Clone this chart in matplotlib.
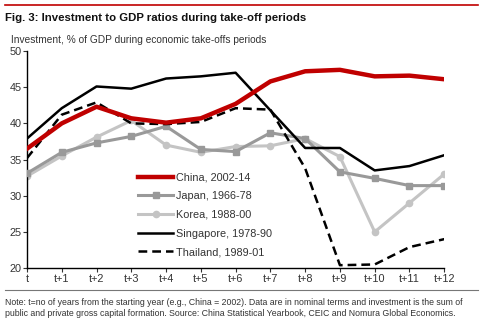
import matplotlib.pyplot as plt
from matplotlib.lines import Line2D

plt.rcParams["font.family"] = ["Liberation Sans", "DejaVu Sans"]

# ---- data ----
periods = ["t", "t+1", "t+2", "t+3", "t+4", "t+5", "t+6",
           "t+7", "t+8", "t+9", "t+10", "t+11", "t+12"]

china = [36.5, 40.0, 42.3, 40.7, 40.1, 40.7, 42.7, 45.8, 47.2, 47.4, 46.5, 46.6, 46.1]
japan = [33.1, 36.0, 37.3, 38.2, 39.6, 36.4, 36.1, 38.7, 37.9, 33.3, 32.4, 31.4, 31.4]
korea = [32.7, 35.5, 38.1, 40.4, 37.0, 36.0, 36.8, 36.9, 37.9, 35.4, 25.0, 29.0, 33.0]
singapore = [37.9, 42.1, 45.1, 44.8, 46.2, 46.5, 47.0, 41.8, 36.6, 36.6, 33.5, 34.1, 35.6]
thailand = [35.2, 41.2, 42.9, 40.0, 39.9, 40.2, 42.1, 41.9, 33.8, 20.4, 20.5, 22.9, 24.0]

labels = ["China, 2002-14", "Japan, 1966-78", "Korea, 1988-00",
          "Singapore, 1978-90", "Thailand, 1989-01"]

fig = plt.figure(figsize=(4.88, 3.23), dpi=100)
ax = fig.add_axes([0.0553, 0.170, 0.855, 0.672])

x = range(len(periods))
ax.plot(x, korea, color="#c4c4c4", lw=2.2, marker="o", ms=4.5, zorder=2)
ax.plot(x, japan, color="#999999", lw=2.2, marker="s", ms=4.5, zorder=3)
ax.plot(x, thailand, color="black", lw=1.8, ls=(0, (3.5, 2)), zorder=4)
ax.plot(x, singapore, color="black", lw=1.8, zorder=5)
ax.plot(x, china, color="#c00000", lw=3.2, zorder=6)

ax.set_xlim(0, 12)
ax.set_ylim(20, 50)
ax.set_xticks(list(x))
ax.set_xticklabels(periods)
ax.set_yticks(range(20, 51, 5))
ax.tick_params(labelsize=7.8, length=3, width=0.8, pad=1, colors="#333333")
for s in ["top", "right"]:
    ax.spines[s].set_visible(False)
for s in ["left", "bottom"]:
    ax.spines[s].set_linewidth(1.0)

# legend handles styled like the series
handles = [Line2D([], [], color="#c00000", lw=3.2),
           Line2D([], [], color="#999999", lw=2.2, marker="s", ms=4.5),
           Line2D([], [], color="#c4c4c4", lw=2.2, marker="o", ms=4.5),
           Line2D([], [], color="black", lw=1.8),
           Line2D([], [], color="black", lw=1.8, ls=(0, (3.5, 2)))]
leg = ax.legend(handles, labels, loc="upper left", bbox_to_anchor=(0.255, 0.46),
                frameon=False, fontsize=7.8, handlelength=3.3, handletextpad=0.2,
                labelspacing=0.8, borderaxespad=0)
for t in leg.get_texts():
    t.set_color("#333333")

# header / footer
fig.add_artist(Line2D([0.01, 0.98], [0.985, 0.985], color="#c00000", lw=1.2))
fig.text(0.01, 0.945, "Fig. 3: Investment to GDP ratios during take-off periods",
         fontsize=8.2, fontweight="bold", va="center", color="#111111")
fig.text(0.022, 0.875, "Investment, % of GDP during economic take-offs periods",
         fontsize=7.3, va="center", color="#333333")
fig.add_artist(Line2D([0.01, 0.98], [0.102, 0.102], color="#777777", lw=0.8))
fig.text(0.01, 0.065,
         "Note: t=no of years from the starting year (e.g., China = 2002). Data are in nominal terms and investment is the sum of",
         fontsize=6.3, va="center", color="#333333")
fig.text(0.01, 0.028,
         "public and private gross capital formation. Source: China Statistical Yearbook, CEIC and Nomura Global Economics.",
         fontsize=6.3, va="center", color="#333333")

fig.savefig("out.png", dpi=100)
